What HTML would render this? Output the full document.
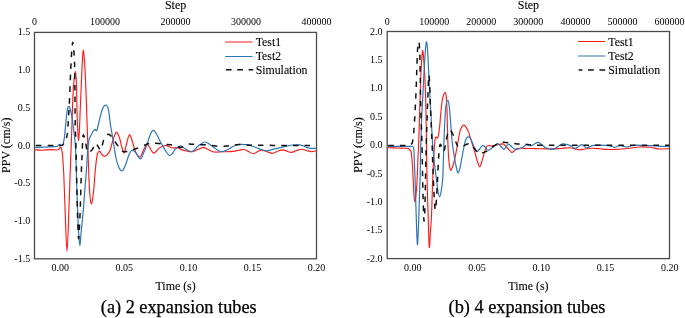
<!DOCTYPE html>
<html><head><meta charset="utf-8">
<style>
html,body{margin:0;padding:0;background:#fff;}
body{width:685px;height:318px;overflow:hidden;}
svg{display:block;will-change:transform;}
text{font-family:"Liberation Serif",serif;fill:#000;stroke:#000;stroke-width:0.1px;}
text.t{fill:#000;stroke:none;}
text.c{stroke-width:0.25px;}
</style></head>
<body>
<svg width="685" height="318" viewBox="0 0 685 318">
<defs>
<clipPath id="cl"><rect x="34.5" y="32.4" width="282" height="226.4"/></clipPath>
<clipPath id="cr"><rect x="387.2" y="31.5" width="282.3" height="227.1"/></clipPath>
</defs>
<rect width="685" height="318" fill="#fff"/>
<rect x="34.5" y="32.4" width="282" height="226.4" fill="none" stroke="#4a4a4a" stroke-width="1.3"/>
<rect x="387.2" y="31.5" width="282.3" height="227.1" fill="none" stroke="#4a4a4a" stroke-width="1.3"/>
<g clip-path="url(#cl)">
<path d="M34.50 149.80 C35.75 149.87 39.42 150.23 42.00 150.20 C44.58 150.17 47.67 149.63 50.00 149.60 C52.33 149.57 54.58 150.00 56.00 150.00 C57.42 150.00 57.72 150.07 58.50 149.60 C59.28 149.13 60.05 146.47 60.70 147.20 C61.35 147.93 61.88 149.37 62.40 154.00 C62.92 158.63 63.35 165.67 63.80 175.00 C64.25 184.33 64.57 197.27 65.10 210.00 C65.63 222.73 66.37 251.40 67.00 251.40 C67.63 251.40 68.38 222.73 68.90 210.00 C69.42 197.27 69.65 187.50 70.10 175.00 C70.55 162.50 71.18 146.67 71.60 135.00 C72.02 123.33 72.27 113.33 72.60 105.00 C72.93 96.67 73.13 90.67 73.60 85.00 C74.07 79.33 74.92 71.00 75.40 71.00 C75.88 71.00 76.23 78.50 76.50 85.00 C76.77 91.50 76.80 102.67 77.00 110.00 C77.20 117.33 77.43 123.93 77.70 129.00 C77.97 134.07 78.30 140.57 78.60 140.40 C78.90 140.23 79.23 133.07 79.50 128.00 C79.77 122.93 79.90 117.17 80.20 110.00 C80.50 102.83 80.98 92.33 81.30 85.00 C81.62 77.67 81.75 71.78 82.10 66.00 C82.45 60.22 82.93 49.97 83.40 50.30 C83.87 50.63 84.42 59.72 84.90 68.00 C85.38 76.28 85.90 89.67 86.30 100.00 C86.70 110.33 86.97 120.00 87.30 130.00 C87.63 140.00 87.93 150.00 88.30 160.00 C88.67 170.00 89.00 182.67 89.50 190.00 C90.00 197.33 90.63 203.67 91.30 204.00 C91.97 204.33 92.80 198.00 93.50 192.00 C94.20 186.00 94.85 174.33 95.50 168.00 C96.15 161.67 96.70 156.77 97.40 154.00 C98.10 151.23 98.93 151.32 99.70 151.40 C100.47 151.48 101.28 153.67 102.00 154.50 C102.72 155.33 103.17 156.35 104.00 156.40 C104.83 156.45 106.00 155.78 107.00 154.80 C108.00 153.82 109.00 152.97 110.00 150.50 C111.00 148.03 111.93 143.07 113.00 140.00 C114.07 136.93 115.32 132.43 116.40 132.10 C117.48 131.77 118.57 135.35 119.50 138.00 C120.43 140.65 121.22 145.53 122.00 148.00 C122.78 150.47 123.45 153.47 124.20 152.80 C124.95 152.13 125.63 147.02 126.50 144.00 C127.37 140.98 128.40 135.03 129.40 134.70 C130.40 134.37 131.40 138.95 132.50 142.00 C133.60 145.05 134.73 150.48 136.00 153.00 C137.27 155.52 138.85 157.60 140.10 157.10 C141.35 156.60 142.30 152.12 143.50 150.00 C144.70 147.88 146.05 144.40 147.30 144.40 C148.55 144.40 149.85 148.55 151.00 150.00 C152.15 151.45 152.88 153.37 154.20 153.10 C155.52 152.83 157.52 149.53 158.90 148.40 C160.28 147.27 161.25 146.77 162.50 146.30 C163.75 145.83 164.80 145.33 166.40 145.60 C168.00 145.87 170.22 147.52 172.10 147.90 C173.98 148.28 176.13 147.62 177.70 147.90 C179.27 148.18 180.12 149.12 181.50 149.60 C182.88 150.08 184.27 150.45 186.00 150.80 C187.73 151.15 190.07 151.87 191.90 151.70 C193.73 151.53 195.10 150.48 197.00 149.80 C198.90 149.12 201.38 147.60 203.30 147.60 C205.22 147.60 206.72 149.07 208.50 149.80 C210.28 150.53 211.75 151.67 214.00 152.00 C216.25 152.33 218.85 151.90 222.00 151.80 C225.15 151.70 230.07 151.67 232.90 151.40 C235.73 151.13 237.12 150.52 239.00 150.20 C240.88 149.88 242.62 149.28 244.20 149.50 C245.78 149.72 247.00 150.80 248.50 151.50 C250.00 152.20 251.62 153.70 253.20 153.70 C254.78 153.70 256.53 152.08 258.00 151.50 C259.47 150.92 260.50 150.15 262.00 150.20 C263.50 150.25 265.22 151.28 267.00 151.80 C268.78 152.32 270.87 153.43 272.70 153.30 C274.53 153.17 276.32 151.57 278.00 151.00 C279.68 150.43 281.30 149.87 282.80 149.90 C284.30 149.93 285.53 150.78 287.00 151.20 C288.47 151.62 290.02 152.52 291.60 152.40 C293.18 152.28 294.83 151.03 296.50 150.50 C298.17 149.97 299.93 149.20 301.60 149.20 C303.27 149.20 304.82 150.08 306.50 150.50 C308.18 150.92 310.03 151.65 311.70 151.70 C313.37 151.75 315.70 150.95 316.50 150.80" fill="none" stroke="#ff1a1a" stroke-width="1.15" stroke-linejoin="round"/>
<path d="M34.50 147.30 C36.25 147.27 41.75 147.20 45.00 147.10 C48.25 147.00 51.93 146.83 54.00 146.70 C56.07 146.57 56.45 146.68 57.40 146.30 C58.35 145.92 59.02 144.53 59.70 144.40 C60.38 144.27 60.97 145.47 61.50 145.50 C62.03 145.53 62.50 145.43 62.90 144.60 C63.30 143.77 63.60 142.10 63.90 140.50 C64.20 138.90 64.30 138.75 64.70 135.00 C65.10 131.25 65.82 122.42 66.30 118.00 C66.78 113.58 67.18 110.45 67.60 108.50 C68.02 106.55 68.37 106.22 68.80 106.30 C69.23 106.38 69.70 107.38 70.20 109.00 C70.70 110.62 71.30 113.17 71.80 116.00 C72.30 118.83 72.73 122.50 73.20 126.00 C73.67 129.50 74.18 132.67 74.60 137.00 C75.02 141.33 75.40 145.67 75.70 152.00 C76.00 158.33 76.12 166.17 76.40 175.00 C76.68 183.83 77.03 195.50 77.40 205.00 C77.77 214.50 78.20 225.32 78.60 232.00 C79.00 238.68 79.40 244.77 79.80 245.10 C80.20 245.43 80.42 239.85 81.00 234.00 C81.58 228.15 82.60 218.17 83.30 210.00 C84.00 201.83 84.67 191.67 85.20 185.00 C85.73 178.33 86.08 175.83 86.50 170.00 C86.92 164.17 87.27 155.08 87.70 150.00 C88.13 144.92 88.60 141.83 89.10 139.50 C89.60 137.17 90.13 137.17 90.70 136.00 C91.27 134.83 91.95 133.47 92.50 132.50 C93.05 131.53 93.55 130.72 94.00 130.20 C94.45 129.68 94.77 129.30 95.20 129.40 C95.63 129.50 96.17 131.20 96.60 130.80 C97.03 130.40 97.23 129.20 97.80 127.00 C98.37 124.80 99.22 120.63 100.00 117.60 C100.78 114.57 101.75 110.77 102.50 108.80 C103.25 106.83 103.88 106.40 104.50 105.80 C105.12 105.20 105.65 104.95 106.20 105.20 C106.75 105.45 107.33 106.00 107.80 107.30 C108.27 108.60 108.55 110.02 109.00 113.00 C109.45 115.98 109.97 121.53 110.50 125.20 C111.03 128.87 111.70 132.03 112.20 135.00 C112.70 137.97 112.87 139.17 113.50 143.00 C114.13 146.83 115.17 154.08 116.00 158.00 C116.83 161.92 117.57 164.33 118.50 166.50 C119.43 168.67 120.60 170.83 121.60 171.00 C122.60 171.17 123.52 169.50 124.50 167.50 C125.48 165.50 126.58 161.50 127.50 159.00 C128.42 156.50 129.12 153.97 130.00 152.50 C130.88 151.03 131.72 150.03 132.80 150.20 C133.88 150.37 135.20 152.05 136.50 153.50 C137.80 154.95 139.35 159.15 140.60 158.90 C141.85 158.65 142.92 154.45 144.00 152.00 C145.08 149.55 146.02 147.20 147.10 144.20 C148.18 141.20 149.42 136.30 150.50 134.00 C151.58 131.70 152.52 130.23 153.60 130.40 C154.68 130.57 155.93 133.23 157.00 135.00 C158.07 136.77 159.07 139.23 160.00 141.00 C160.93 142.77 161.60 143.85 162.60 145.60 C163.60 147.35 164.82 149.85 166.00 151.50 C167.18 153.15 168.57 155.25 169.70 155.50 C170.83 155.75 171.78 154.18 172.80 153.00 C173.82 151.82 174.50 149.60 175.80 148.40 C177.10 147.20 179.02 145.72 180.60 145.80 C182.18 145.88 183.42 147.92 185.30 148.90 C187.18 149.88 189.95 152.02 191.90 151.70 C193.85 151.38 195.65 148.18 197.00 147.00 C198.35 145.82 198.63 145.43 200.00 144.60 C201.37 143.77 203.53 142.02 205.20 142.00 C206.87 141.98 208.37 143.45 210.00 144.50 C211.63 145.55 213.17 147.10 215.00 148.30 C216.83 149.50 219.00 151.42 221.00 151.70 C223.00 151.98 225.17 150.78 227.00 150.00 C228.83 149.22 230.18 147.92 232.00 147.00 C233.82 146.08 235.65 144.90 237.90 144.50 C240.15 144.10 243.48 144.43 245.50 144.60 C247.52 144.77 248.25 145.02 250.00 145.50 C251.75 145.98 254.17 146.83 256.00 147.50 C257.83 148.17 259.27 148.95 261.00 149.50 C262.73 150.05 264.57 150.78 266.40 150.80 C268.23 150.82 269.73 150.13 272.00 149.60 C274.27 149.07 277.37 148.23 280.00 147.60 C282.63 146.97 285.63 146.23 287.80 145.80 C289.97 145.37 291.12 145.15 293.00 145.00 C294.88 144.85 297.43 144.77 299.10 144.90 C300.77 145.03 301.68 145.37 303.00 145.80 C304.32 146.23 305.77 147.08 307.00 147.50 C308.23 147.92 308.82 148.17 310.40 148.30 C311.98 148.43 315.48 148.30 316.50 148.30" fill="none" stroke="#2e75b6" stroke-width="1.2" stroke-linejoin="round"/>
<path d="M34.50 145.50 C37.92 145.50 50.67 145.50 55.00 145.50 C59.33 145.50 59.23 145.55 60.50 145.50 C61.77 145.45 61.98 145.58 62.60 145.20 C63.22 144.82 63.68 143.95 64.20 143.20 C64.72 142.45 65.18 142.23 65.70 140.70 C66.22 139.17 66.83 137.78 67.30 134.00 C67.77 130.22 68.13 123.67 68.50 118.00 C68.87 112.33 69.20 106.33 69.50 100.00 C69.80 93.67 70.07 85.67 70.30 80.00 C70.53 74.33 70.65 71.00 70.90 66.00 C71.15 61.00 71.48 53.97 71.80 50.00 C72.12 46.03 72.47 42.20 72.80 42.20 C73.13 42.20 73.50 46.20 73.80 50.00 C74.10 53.80 74.42 59.17 74.60 65.00 C74.78 70.83 74.83 79.17 74.90 85.00 C74.97 90.83 74.93 92.83 75.00 100.00 C75.07 107.17 75.17 121.33 75.30 128.00 C75.43 134.67 75.62 133.33 75.80 140.00 C75.98 146.67 76.13 156.33 76.40 168.00 C76.67 179.67 77.05 198.33 77.40 210.00 C77.75 221.67 78.17 235.00 78.50 238.00 C78.83 241.00 79.12 232.67 79.40 228.00 C79.68 223.33 79.87 219.67 80.20 210.00 C80.53 200.33 81.07 179.67 81.40 170.00 C81.73 160.33 81.98 157.00 82.20 152.00 C82.42 147.00 82.53 142.83 82.70 140.00 C82.87 137.17 82.95 135.58 83.20 135.00 C83.45 134.42 83.83 135.50 84.20 136.50 C84.57 137.50 85.02 139.08 85.40 141.00 C85.78 142.92 86.15 146.17 86.50 148.00 C86.85 149.83 87.00 151.37 87.50 152.00 C88.00 152.63 88.78 152.10 89.50 151.80 C90.22 151.50 91.05 151.08 91.80 150.20 C92.55 149.32 93.35 147.67 94.00 146.50 C94.65 145.33 95.07 143.28 95.70 143.20 C96.33 143.12 97.03 144.87 97.80 146.00 C98.57 147.13 99.60 150.00 100.30 150.00 C101.00 150.00 101.38 147.78 102.00 146.00 C102.62 144.22 103.08 141.22 104.00 139.30 C104.92 137.38 106.40 135.12 107.50 134.50 C108.60 133.88 109.52 134.68 110.60 135.60 C111.68 136.52 112.77 138.27 114.00 140.00 C115.23 141.73 116.58 144.15 118.00 146.00 C119.42 147.85 121.17 150.17 122.50 151.10 C123.83 152.03 124.85 151.57 126.00 151.60 C127.15 151.63 127.90 151.73 129.40 151.30 C130.90 150.87 133.23 149.68 135.00 149.00 C136.77 148.32 138.07 148.00 140.00 147.20 C141.93 146.40 144.85 144.87 146.60 144.20 C148.35 143.53 149.23 143.40 150.50 143.20 C151.77 143.00 152.78 142.93 154.20 143.00 C155.62 143.07 157.43 143.38 159.00 143.60 C160.57 143.82 161.42 144.08 163.60 144.30 C165.78 144.52 169.95 144.58 172.10 144.90 C174.25 145.22 175.08 145.77 176.50 146.20 C177.92 146.63 179.27 147.53 180.60 147.50 C181.93 147.47 183.25 146.55 184.50 146.00 C185.75 145.45 186.68 144.48 188.10 144.20 C189.52 143.92 191.43 144.23 193.00 144.30 C194.57 144.37 195.50 144.52 197.50 144.60 C199.50 144.68 202.58 144.63 205.00 144.80 C207.42 144.97 209.67 145.35 212.00 145.60 C214.33 145.85 216.57 146.22 219.00 146.30 C221.43 146.38 224.43 146.27 226.60 146.10 C228.77 145.93 229.90 145.55 232.00 145.30 C234.10 145.05 236.87 144.65 239.20 144.60 C241.53 144.55 242.53 144.88 246.00 145.00 C249.47 145.12 254.33 145.23 260.00 145.30 C265.67 145.37 273.33 145.38 280.00 145.40 C286.67 145.42 293.92 145.40 300.00 145.40 C306.08 145.40 313.75 145.40 316.50 145.40" fill="none" stroke="#111" stroke-width="1.5" stroke-dasharray="5.5 6.1" stroke-dashoffset="10.1"/>
</g>
<g clip-path="url(#cr)">
<path d="M387.50 147.70 C389.25 147.75 395.08 147.92 398.00 148.00 C400.92 148.08 403.27 148.10 405.00 148.20 C406.73 148.30 407.55 148.25 408.40 148.60 C409.25 148.95 409.62 149.63 410.10 150.30 C410.58 150.97 410.92 150.15 411.30 152.60 C411.68 155.05 412.08 160.43 412.40 165.00 C412.72 169.57 412.93 175.00 413.20 180.00 C413.47 185.00 413.73 191.35 414.00 195.00 C414.27 198.65 414.47 201.90 414.80 201.90 C415.13 201.90 415.62 198.65 416.00 195.00 C416.38 191.35 416.78 185.83 417.10 180.00 C417.42 174.17 417.62 166.67 417.90 160.00 C418.18 153.33 418.50 148.33 418.80 140.00 C419.10 131.67 419.42 119.17 419.70 110.00 C419.98 100.83 420.25 92.00 420.50 85.00 C420.75 78.00 420.85 73.73 421.20 68.00 C421.55 62.27 422.13 51.43 422.60 50.60 C423.07 49.77 423.62 58.43 424.00 63.00 C424.38 67.57 424.62 71.83 424.90 78.00 C425.18 84.17 425.47 91.33 425.70 100.00 C425.93 108.67 426.13 120.00 426.30 130.00 C426.47 140.00 426.55 150.83 426.70 160.00 C426.85 169.17 426.97 175.83 427.20 185.00 C427.43 194.17 427.75 204.62 428.10 215.00 C428.45 225.38 428.90 244.80 429.30 247.30 C429.70 249.80 430.15 234.88 430.50 230.00 C430.85 225.12 431.12 223.83 431.40 218.00 C431.68 212.17 431.95 202.17 432.20 195.00 C432.45 187.83 432.62 181.67 432.90 175.00 C433.18 168.33 433.55 160.92 433.90 155.00 C434.25 149.08 434.60 142.50 435.00 139.50 C435.40 136.50 435.88 137.22 436.30 137.00 C436.72 136.78 437.10 138.70 437.50 138.20 C437.90 137.70 438.33 136.03 438.70 134.00 C439.07 131.97 439.35 129.50 439.70 126.00 C440.05 122.50 440.37 117.33 440.80 113.00 C441.23 108.67 441.82 103.08 442.30 100.00 C442.78 96.92 443.22 95.72 443.70 94.50 C444.18 93.28 444.77 92.28 445.20 92.70 C445.63 93.12 446.00 94.12 446.30 97.00 C446.60 99.88 446.80 104.50 447.00 110.00 C447.20 115.50 447.30 123.33 447.50 130.00 C447.70 136.67 447.95 144.67 448.20 150.00 C448.45 155.33 448.63 158.68 449.00 162.00 C449.37 165.32 449.82 169.07 450.40 169.90 C450.98 170.73 451.82 168.65 452.50 167.00 C453.18 165.35 453.83 162.83 454.50 160.00 C455.17 157.17 455.87 153.33 456.50 150.00 C457.13 146.67 457.68 143.22 458.30 140.00 C458.92 136.78 459.58 132.93 460.20 130.70 C460.82 128.47 461.37 127.53 462.00 126.60 C462.63 125.67 463.30 124.98 464.00 125.10 C464.70 125.22 465.48 126.25 466.20 127.30 C466.92 128.35 467.67 129.87 468.30 131.40 C468.93 132.93 469.47 134.83 470.00 136.50 C470.53 138.17 470.97 139.65 471.50 141.40 C472.03 143.15 472.67 145.28 473.20 147.00 C473.73 148.72 474.07 149.53 474.70 151.70 C475.33 153.87 476.17 157.50 477.00 160.00 C477.83 162.50 478.87 166.53 479.70 166.70 C480.53 166.87 481.25 163.23 482.00 161.00 C482.75 158.77 483.45 155.67 484.20 153.30 C484.95 150.93 485.70 148.07 486.50 146.80 C487.30 145.53 488.08 145.87 489.00 145.70 C489.92 145.53 490.67 145.92 492.00 145.80 C493.33 145.68 495.17 145.32 497.00 145.00 C498.83 144.68 501.25 143.40 503.00 143.90 C504.75 144.40 506.05 146.57 507.50 148.00 C508.95 149.43 510.53 152.08 511.70 152.50 C512.87 152.92 513.58 151.15 514.50 150.50 C515.42 149.85 515.70 148.97 517.20 148.60 C518.70 148.23 520.53 148.30 523.50 148.30 C526.47 148.30 530.58 148.50 535.00 148.60 C539.42 148.70 545.83 148.92 550.00 148.90 C554.17 148.88 556.68 148.68 560.00 148.50 C563.32 148.32 567.40 147.73 569.90 147.80 C572.40 147.87 573.43 148.57 575.00 148.90 C576.57 149.23 577.63 149.78 579.30 149.80 C580.97 149.82 582.90 149.25 585.00 149.00 C587.10 148.75 589.40 148.33 591.90 148.30 C594.40 148.27 597.65 148.62 600.00 148.80 C602.35 148.98 603.38 149.30 606.00 149.40 C608.62 149.50 612.03 149.55 615.70 149.40 C619.37 149.25 624.07 148.90 628.00 148.50 C631.93 148.10 635.58 147.20 639.30 147.00 C643.02 146.80 647.15 146.98 650.30 147.30 C653.45 147.62 655.00 148.68 658.20 148.90 C661.40 149.12 667.62 148.65 669.50 148.60" fill="none" stroke="#ff1a1a" stroke-width="1.15" stroke-linejoin="round"/>
<path d="M387.50 146.30 C389.58 146.30 396.25 146.28 400.00 146.30 C403.75 146.32 407.85 146.37 410.00 146.40 C412.15 146.43 412.25 145.90 412.90 146.50 C413.55 147.10 413.63 146.92 413.90 150.00 C414.17 153.08 414.30 160.00 414.50 165.00 C414.70 170.00 414.88 173.67 415.10 180.00 C415.32 186.33 415.55 195.00 415.80 203.00 C416.05 211.00 416.33 221.05 416.60 228.00 C416.87 234.95 417.13 243.87 417.40 244.70 C417.67 245.53 417.97 237.45 418.20 233.00 C418.43 228.55 418.58 224.33 418.80 218.00 C419.02 211.67 419.28 201.67 419.50 195.00 C419.72 188.33 419.88 186.33 420.10 178.00 C420.32 169.67 420.55 154.67 420.80 145.00 C421.05 135.33 421.30 127.50 421.60 120.00 C421.90 112.50 422.28 106.33 422.60 100.00 C422.92 93.67 423.22 87.33 423.50 82.00 C423.78 76.67 423.98 73.33 424.30 68.00 C424.62 62.67 425.02 54.37 425.40 50.00 C425.78 45.63 426.22 41.47 426.60 41.80 C426.98 42.13 427.37 47.30 427.70 52.00 C428.03 56.70 428.32 64.17 428.60 70.00 C428.88 75.83 429.15 82.00 429.40 87.00 C429.65 92.00 429.87 95.83 430.10 100.00 C430.33 104.17 430.53 107.33 430.80 112.00 C431.07 116.67 431.38 122.50 431.70 128.00 C432.02 133.50 432.27 139.33 432.70 145.00 C433.13 150.67 433.68 156.33 434.30 162.00 C434.92 167.67 435.78 174.08 436.40 179.00 C437.02 183.92 437.47 188.53 438.00 191.50 C438.53 194.47 439.07 196.88 439.60 196.80 C440.13 196.72 440.68 193.97 441.20 191.00 C441.72 188.03 442.33 184.17 442.70 179.00 C443.07 173.83 443.18 166.50 443.40 160.00 C443.62 153.50 443.75 146.67 444.00 140.00 C444.25 133.33 444.58 125.67 444.90 120.00 C445.22 114.33 445.40 109.27 445.90 106.00 C446.40 102.73 447.35 100.40 447.90 100.40 C448.45 100.40 448.80 103.07 449.20 106.00 C449.60 108.93 449.83 112.33 450.30 118.00 C450.77 123.67 451.30 133.33 452.00 140.00 C452.70 146.67 453.75 153.33 454.50 158.00 C455.25 162.67 455.90 165.52 456.50 168.00 C457.10 170.48 457.48 173.07 458.10 172.90 C458.72 172.73 459.52 169.82 460.20 167.00 C460.88 164.18 461.60 159.25 462.20 156.00 C462.80 152.75 463.30 149.93 463.80 147.50 C464.30 145.07 464.67 143.05 465.20 141.40 C465.73 139.75 466.37 138.33 467.00 137.60 C467.63 136.87 468.33 136.68 469.00 137.00 C469.67 137.32 470.27 138.13 471.00 139.50 C471.73 140.87 472.70 143.53 473.40 145.20 C474.10 146.87 474.58 148.42 475.20 149.50 C475.82 150.58 476.35 151.78 477.10 151.70 C477.85 151.62 478.78 150.05 479.70 149.00 C480.62 147.95 481.63 145.65 482.60 145.40 C483.57 145.15 484.58 146.70 485.50 147.50 C486.42 148.30 486.93 150.20 488.10 150.20 C489.27 150.20 490.93 148.60 492.50 147.50 C494.07 146.40 496.17 143.85 497.50 143.60 C498.83 143.35 499.45 145.03 500.50 146.00 C501.55 146.97 502.88 149.23 503.80 149.40 C504.72 149.57 505.22 147.87 506.00 147.00 C506.78 146.13 507.50 144.20 508.50 144.20 C509.50 144.20 510.82 146.13 512.00 147.00 C513.18 147.87 513.95 149.27 515.60 149.40 C517.25 149.53 520.07 148.58 521.90 147.80 C523.73 147.02 525.03 145.03 526.60 144.70 C528.17 144.37 529.47 146.20 531.30 145.80 C533.13 145.40 535.90 142.52 537.60 142.30 C539.30 142.08 540.18 143.58 541.50 144.50 C542.82 145.42 544.25 147.12 545.50 147.80 C546.75 148.48 547.68 148.33 549.00 148.60 C550.32 148.87 551.90 149.75 553.40 149.40 C554.90 149.05 556.43 147.42 558.00 146.50 C559.57 145.58 560.82 144.08 562.80 143.90 C564.78 143.72 567.80 144.67 569.90 145.40 C572.00 146.13 573.43 148.42 575.40 148.30 C577.37 148.18 579.87 144.78 581.70 144.70 C583.53 144.62 584.43 147.68 586.40 147.80 C588.37 147.92 590.23 145.80 593.50 145.40 C596.77 145.00 603.25 145.30 606.00 145.40 C608.75 145.50 608.55 145.68 610.00 146.00 C611.45 146.32 613.03 147.37 614.70 147.30 C616.37 147.23 618.00 145.65 620.00 145.60 C622.00 145.55 624.87 146.93 626.70 147.00 C628.53 147.07 629.42 146.30 631.00 146.00 C632.58 145.70 633.87 145.27 636.20 145.20 C638.53 145.13 641.87 145.50 645.00 145.60 C648.13 145.70 652.17 145.68 655.00 145.80 C657.83 145.92 659.58 146.18 662.00 146.30 C664.42 146.42 668.25 146.47 669.50 146.50" fill="none" stroke="#2e75b6" stroke-width="1.2" stroke-linejoin="round"/>
<path d="M387.50 145.40 C389.58 145.40 396.37 145.40 400.00 145.40 C403.63 145.40 407.55 145.50 409.30 145.40 C410.50 145.30 410.02 145.20 410.50 144.80 C410.98 144.40 411.78 143.97 412.20 143.00 C412.62 142.03 412.77 140.50 413.00 139.00 C413.23 137.50 413.33 137.17 413.60 134.00 C413.87 130.83 414.30 124.83 414.60 120.00 C414.90 115.17 415.15 110.00 415.40 105.00 C415.65 100.00 415.87 95.83 416.10 90.00 C416.33 84.17 416.58 76.33 416.80 70.00 C417.02 63.67 417.17 56.33 417.40 52.00 C417.63 47.67 417.93 45.67 418.20 44.00 C418.47 42.33 418.77 41.17 419.00 42.00 C419.23 42.83 419.43 45.67 419.60 49.00 C419.77 52.33 419.88 56.83 420.00 62.00 C420.12 67.17 420.20 73.67 420.30 80.00 C420.40 86.33 420.43 92.50 420.60 100.00 C420.77 107.50 421.07 117.50 421.30 125.00 C421.53 132.50 421.78 136.17 422.00 145.00 C422.22 153.83 422.38 168.00 422.60 178.00 C422.82 188.00 423.07 197.83 423.30 205.00 C423.53 212.17 423.75 220.17 424.00 221.00 C424.25 221.83 424.57 216.00 424.80 210.00 C425.03 204.00 425.20 194.17 425.40 185.00 C425.60 175.83 425.75 165.00 426.00 155.00 C426.25 145.00 426.60 134.50 426.90 125.00 C427.20 115.50 427.48 106.25 427.80 98.00 C428.12 89.75 428.48 77.67 428.80 75.50 C429.12 73.33 429.47 80.92 429.70 85.00 C429.93 89.08 429.98 94.17 430.20 100.00 C430.42 105.83 430.68 112.50 431.00 120.00 C431.32 127.50 431.72 135.33 432.10 145.00 C432.48 154.67 432.93 168.83 433.30 178.00 C433.67 187.17 433.95 194.67 434.30 200.00 C434.65 205.33 435.05 210.00 435.40 210.00 C435.75 210.00 436.07 204.67 436.40 200.00 C436.73 195.33 437.07 188.33 437.40 182.00 C437.73 175.67 438.10 167.33 438.40 162.00 C438.70 156.67 438.90 152.93 439.20 150.00 C439.50 147.07 439.82 144.98 440.20 144.40 C440.58 143.82 440.98 145.35 441.50 146.50 C442.02 147.65 442.78 150.88 443.30 151.30 C443.82 151.72 444.17 150.52 444.60 149.00 C445.03 147.48 445.37 144.87 445.90 142.20 C446.43 139.53 447.12 135.02 447.80 133.00 C448.48 130.98 449.25 130.07 450.00 130.10 C450.75 130.13 451.43 131.52 452.30 133.20 C453.17 134.88 454.30 138.03 455.20 140.20 C456.10 142.37 456.90 145.03 457.70 146.20 C458.50 147.37 459.17 147.17 460.00 147.20 C460.83 147.23 461.70 146.83 462.70 146.40 C463.70 145.97 464.95 145.02 466.00 144.60 C467.05 144.18 468.00 143.75 469.00 143.90 C470.00 144.05 471.08 144.73 472.00 145.50 C472.92 146.27 473.52 147.28 474.50 148.50 C475.48 149.72 476.82 152.02 477.90 152.80 C478.98 153.58 479.70 153.38 481.00 153.20 C482.30 153.02 484.13 152.47 485.70 151.70 C487.27 150.93 488.68 149.78 490.40 148.60 C492.12 147.42 493.90 145.67 496.00 144.60 C498.10 143.53 500.52 142.45 503.00 142.20 C505.48 141.95 508.53 142.82 510.90 143.10 C513.27 143.38 515.10 143.75 517.20 143.90 C519.30 144.05 520.88 143.82 523.50 144.00 C526.12 144.18 529.32 144.78 532.90 145.00 C536.48 145.22 540.48 145.27 545.00 145.30 C549.52 145.33 550.83 145.22 560.00 145.20 C569.17 145.18 581.75 145.20 600.00 145.20 C618.25 145.20 657.92 145.20 669.50 145.20" fill="none" stroke="#111" stroke-width="1.5" stroke-dasharray="5.5 6.1" stroke-dashoffset="10.8"/>
</g>
<text x="30.2" y="35.30" font-size="10" class="t" text-anchor="end">1.5</text>
<text x="30.2" y="73.03" font-size="10" class="t" text-anchor="end">1.0</text>
<text x="30.2" y="110.77" font-size="10" class="t" text-anchor="end">0.5</text>
<text x="30.2" y="148.50" font-size="10" class="t" text-anchor="end">0.0</text>
<text x="30.2" y="186.23" font-size="10" class="t" text-anchor="end">-0.5</text>
<text x="30.2" y="223.97" font-size="10" class="t" text-anchor="end">-1.0</text>
<text x="30.2" y="261.70" font-size="10" class="t" text-anchor="end">-1.5</text>
<text x="382.6" y="34.60" font-size="10" class="t" text-anchor="end">2.0</text>
<text x="382.6" y="62.99" font-size="10" class="t" text-anchor="end">1.5</text>
<text x="382.6" y="91.38" font-size="10" class="t" text-anchor="end">1.0</text>
<text x="382.6" y="119.76" font-size="10" class="t" text-anchor="end">0.5</text>
<text x="382.6" y="148.15" font-size="10" class="t" text-anchor="end">0.0</text>
<text x="382.6" y="176.54" font-size="10" class="t" text-anchor="end">-0.5</text>
<text x="382.6" y="204.92" font-size="10" class="t" text-anchor="end">-1.0</text>
<text x="382.6" y="233.31" font-size="10" class="t" text-anchor="end">-1.5</text>
<text x="382.6" y="261.70" font-size="10" class="t" text-anchor="end">-2.0</text>
<text x="60.20" y="271" font-size="10" class="t" text-anchor="middle">0.00</text>
<text x="124.30" y="271" font-size="10" class="t" text-anchor="middle">0.05</text>
<text x="188.40" y="271" font-size="10" class="t" text-anchor="middle">0.10</text>
<text x="252.50" y="271" font-size="10" class="t" text-anchor="middle">0.15</text>
<text x="316.60" y="271" font-size="10" class="t" text-anchor="middle">0.20</text>
<text x="412.85" y="271" font-size="10" class="t" text-anchor="middle">0.00</text>
<text x="477.05" y="271" font-size="10" class="t" text-anchor="middle">0.05</text>
<text x="541.25" y="271" font-size="10" class="t" text-anchor="middle">0.10</text>
<text x="605.45" y="271" font-size="10" class="t" text-anchor="middle">0.15</text>
<text x="669.65" y="271" font-size="10" class="t" text-anchor="middle">0.20</text>
<text x="34.50" y="24.6" font-size="10" class="t" text-anchor="middle">0</text>
<text x="105.00" y="24.6" font-size="10" class="t" text-anchor="middle">100000</text>
<text x="175.50" y="24.6" font-size="10" class="t" text-anchor="middle">200000</text>
<text x="246.00" y="24.6" font-size="10" class="t" text-anchor="middle">300000</text>
<text x="316.50" y="24.6" font-size="10" class="t" text-anchor="middle">400000</text>
<text x="387.20" y="24.6" font-size="10" class="t" text-anchor="middle">0</text>
<text x="434.25" y="24.6" font-size="10" class="t" text-anchor="middle">100000</text>
<text x="481.30" y="24.6" font-size="10" class="t" text-anchor="middle">200000</text>
<text x="528.35" y="24.6" font-size="10" class="t" text-anchor="middle">300000</text>
<text x="575.40" y="24.6" font-size="10" class="t" text-anchor="middle">400000</text>
<text x="622.45" y="24.6" font-size="10" class="t" text-anchor="middle">500000</text>
<text x="669.50" y="24.6" font-size="10" class="t" text-anchor="middle">600000</text>
<text x="175.6" y="9.1" font-size="12" text-anchor="middle">Step</text>
<text x="528.4" y="9.1" font-size="12" text-anchor="middle">Step</text>
<text x="175.6" y="289.6" font-size="11.9" text-anchor="middle">Time (s)</text>
<text x="528.4" y="289.6" font-size="11.9" text-anchor="middle">Time (s)</text>
<text transform="translate(9.7,145.25) rotate(-90)" font-size="12" text-anchor="middle">PPV (cm/s)</text>
<text transform="translate(362.3,145.0) rotate(-90)" font-size="12" text-anchor="middle">PPV (cm/s)</text>
<text x="100.8" y="312.9" font-size="18.3" class="c">(a) 2 expansion tubes</text>
<text x="448.6" y="312.9" font-size="18.3" class="c">(b) 4 expansion tubes</text>
<line x1="225.20" y1="42.00" x2="252.50" y2="42.00" stroke="#ff1a1a" stroke-width="1.0"/>
<line x1="225.20" y1="56.50" x2="252.50" y2="56.50" stroke="#2e75b6" stroke-width="1.0"/>
<line x1="225.80" y1="69.80" x2="253.20" y2="69.80" stroke="#111" stroke-width="1.5" stroke-dasharray="5.8 5.6" stroke-dashoffset="0.0"/>
<text x="255.70" y="46.00" font-size="11.8">Test1</text>
<text x="255.70" y="60.40" font-size="11.8">Test2</text>
<text x="255.70" y="73.90" font-size="11.8">Simulation</text>
<line x1="578.00" y1="41.50" x2="605.30" y2="41.50" stroke="#ff1a1a" stroke-width="1.0"/>
<line x1="578.00" y1="56.00" x2="605.30" y2="56.00" stroke="#2e75b6" stroke-width="1.0"/>
<line x1="578.60" y1="69.90" x2="606.00" y2="69.90" stroke="#111" stroke-width="1.5" stroke-dasharray="5.8 5.6" stroke-dashoffset="2.0"/>
<text x="608.30" y="45.80" font-size="11.8">Test1</text>
<text x="608.30" y="59.90" font-size="11.8">Test2</text>
<text x="608.30" y="74.00" font-size="11.8">Simulation</text>
</svg>
</body></html>
